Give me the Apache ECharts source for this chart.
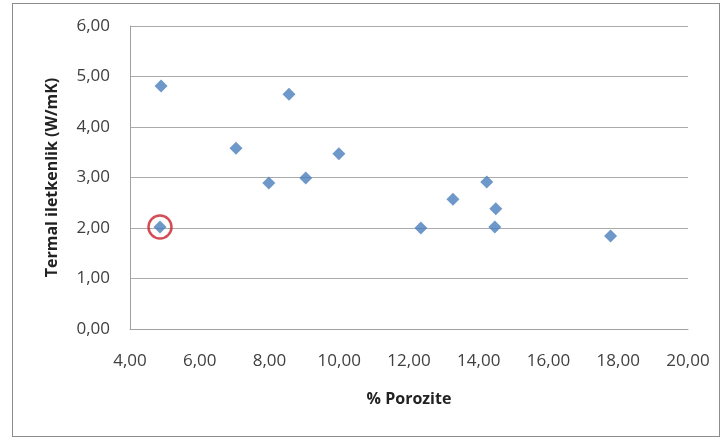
<!DOCTYPE html>
<html>
<head>
<meta charset="utf-8">
<script src="https://cdn.jsdelivr.net/npm/echarts@6/dist/echarts.min.js"></script>
<style>
  html, body { margin: 0; padding: 0; background: #fff; }
  #frame { position: absolute; left: 12px; top: 3px; width: 708px; height: 434px; border: 1px solid #8c8c8c; box-sizing: border-box; }
  #chart { width: 723px; height: 439px; position: absolute; left: 0; top: 0; }
</style>
</head>
<body>
<div id="frame"></div>
<div id="chart"></div>
<script>
// Porosity (%) against thermal conductivity (W/mK)
const porosity = [4.89, 7.04, 7.98, 8.56, 9.04, 9.99, 4.86, 12.34, 13.26, 14.23, 14.49, 14.46, 17.78];
const conductivity = [4.81, 3.58, 2.89, 4.65, 2.99, 3.47, 2.02, 2.00, 2.57, 2.91, 2.38, 2.02, 1.84];
// Highlighted sample (index into the arrays above)
const highlightIndex = 6;

const points = porosity.map((x, i) => [x, conductivity[i]]);
const fmt = v => v.toFixed(2).replace('.', ',');
const font = '"Open Sans", "Liberation Sans", sans-serif';

const chart = echarts.init(document.getElementById('chart'), null, { renderer: 'canvas' });
chart.setOption({
  animation: false,
  backgroundColor: 'transparent',
  grid: { left: 130, top: 26, right: 35, bottom: 110 },
  xAxis: {
    type: 'value', min: 4, max: 20, interval: 2,
    name: '% Porozite', nameLocation: 'middle', nameGap: 62,
    nameTextStyle: { fontFamily: font, fontWeight: 'bold', fontSize: 16, color: '#222' },
    axisLine: { show: true, onZero: false, lineStyle: { color: '#a0a0a0' } },
    axisTick: { show: false },
    splitLine: { show: false },
    axisLabel: { formatter: fmt, fontFamily: font, fontSize: 17, color: '#404040', margin: 24 }
  },
  yAxis: {
    type: 'value', min: 0, max: 6, interval: 1,
    name: 'Termal iletkenlik (W/mK)', nameLocation: 'middle', nameGap: 70, nameRotate: 90,
    nameTextStyle: { fontFamily: font, fontWeight: 'bold', fontSize: 16, color: '#222' },
    axisLine: { show: true, lineStyle: { color: '#a0a0a0' } },
    axisTick: { show: false },
    splitLine: { show: true, lineStyle: { color: '#ababab', width: 1 } },
    axisLabel: { formatter: fmt, fontFamily: font, fontSize: 17, color: '#404040', margin: 20 }
  },
  series: [
    {
      type: 'scatter',
      data: points,
      symbol: 'diamond',
      symbolSize: 13,
      itemStyle: { color: '#4a7ebb' }
    },
    {
      type: 'scatter',
      data: [points[highlightIndex]],
      symbol: 'circle',
      symbolSize: 23,
      silent: true,
      z: 3,
      itemStyle: { color: 'rgba(0,0,0,0)', borderColor: '#c8232c', borderWidth: 2.5 }
    }
  ]
});
</script>
</body>
</html>
